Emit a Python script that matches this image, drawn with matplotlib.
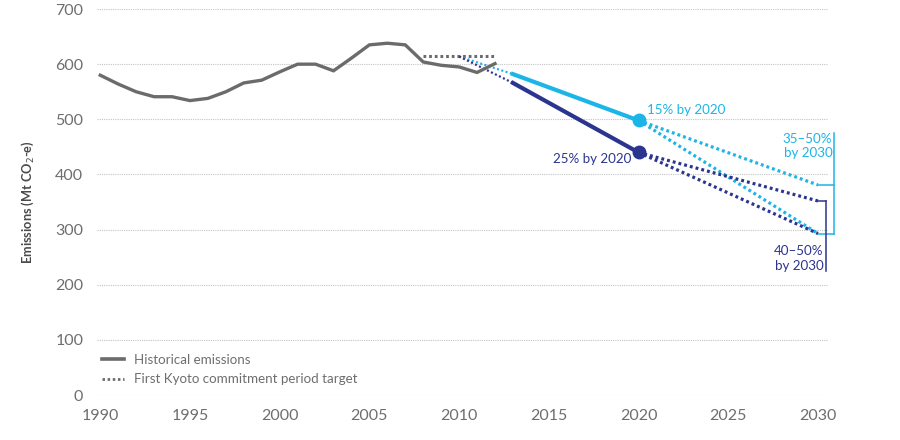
import matplotlib
matplotlib.use("Agg")
import matplotlib.pyplot as plt
from matplotlib.lines import Line2D

plt.rcParams['font.family'] = ['Lato', 'DejaVu Sans']

# ---- data ----
hist_years = list(range(1990, 2013))
hist_values = [580, 564, 550, 541, 541, 534, 538, 550, 566, 571, 586, 600,
               600, 588, 611, 635, 638, 635, 604, 598, 595, 585, 601]
kyoto_years = [2008, 2012]
kyoto_values = [615, 615]

proj_start_year = 2010
proj_start_value = 614
solid_years = [2013, 2020]
light_solid = [582, 498]      # 15% by 2020
dark_solid = [566, 440]       # 25% by 2020
target_year = 2030
light_2030 = [381, 293]       # 35-50% by 2030
dark_2030 = [352, 293]        # 40-50% by 2030

x_ticks = [1990, 1995, 2000, 2005, 2010, 2015, 2020, 2025, 2030]
y_ticks = [0, 100, 200, 300, 400, 500, 600, 700]

GRAY = '#6b6b6b'
LIGHT = '#1cb5e8'
DARK = '#2b3590'
TXT = '#6e6e6e'

fig = plt.figure(figsize=(9, 4.4), dpi=100)
ax = fig.add_axes([0.108, 0.102, 0.812, 0.8775])
ax.set_xlim(1989.83, 2030.56)
ax.set_ylim(0, 700)

for s in ax.spines.values():
    s.set_visible(False)
ax.set_yticks(y_ticks)
ax.set_xticks(x_ticks)
ax.tick_params(length=0, labelsize=11.5, labelcolor=TXT)
ax.tick_params(axis='y', pad=10)
ax.tick_params(axis='x', pad=10)
ax.yaxis.grid(True, color='#c4c4c4', linestyle=(0, (1, 1)), linewidth=0.8)
ax.set_axisbelow(True)
ax.set_ylabel('Emissions (Mt CO$_2$-e)', fontsize=9.2, fontweight='bold',
              color='#4a4a4a', labelpad=14)

dot_big = (0, (0.9, 0.95))
dot_small = (0, (0.9, 1.1))

# historical
ax.plot(hist_years, hist_values, color=GRAY, lw=2.4, solid_joinstyle='miter',
        zorder=4)
# kyoto target
ax.plot(kyoto_years, kyoto_values, color=GRAY, lw=2.2, linestyle=dot_big,
        zorder=3)

# projections: dotted lead-in
ax.plot([proj_start_year, solid_years[0]], [proj_start_value, light_solid[0]],
        color=LIGHT, lw=1.6, linestyle=dot_small, zorder=3)
ax.plot([proj_start_year, solid_years[0]], [proj_start_value, dark_solid[0]],
        color=DARK, lw=1.6, linestyle=dot_small, zorder=3)
# solid to 2020
ax.plot(solid_years, light_solid, color=LIGHT, lw=3.0, zorder=4)
ax.plot(solid_years, dark_solid, color=DARK, lw=3.0, zorder=4)
ax.plot([solid_years[1]], [light_solid[1]], 'o', color=LIGHT, ms=9, zorder=5)
ax.plot([solid_years[1]], [dark_solid[1]], 'o', color=DARK, ms=9, zorder=5)
# dotted to 2030
for v in light_2030:
    ax.plot([solid_years[1], target_year], [light_solid[1], v], color=LIGHT,
            lw=2.3, linestyle=dot_big, zorder=3)
for v in dark_2030:
    ax.plot([solid_years[1], target_year], [dark_solid[1], v], color=DARK,
            lw=2.3, linestyle=dot_big, zorder=3)

# annotations
fs_ann = 9.6
ax.text(2020.45, 517, '15% by 2020', color=LIGHT, fontsize=fs_ann,
        ha='left', va='center')
ax.text(2019.6, 428, '25% by 2020', color=DARK, fontsize=fs_ann,
        ha='right', va='center')
ax.text(2030.8, 452, '35–50%\nby 2030', color=LIGHT, fontsize=fs_ann,
        ha='right', va='center', linespacing=1.25)
ax.text(2030.3, 248, '40–50%\nby 2030', color=DARK, fontsize=fs_ann,
        ha='right', va='center', linespacing=1.25)

# brackets
bx_l = 2030.9
ax.plot([bx_l, bx_l], [light_2030[1], 475], color=LIGHT, lw=1.1,
        clip_on=False, zorder=2)
ax.plot([target_year, bx_l], [light_2030[0], light_2030[0]], color=LIGHT,
        lw=1.1, clip_on=False, zorder=2)
ax.plot([target_year, bx_l], [light_2030[1], light_2030[1]], color=LIGHT,
        lw=1.1, clip_on=False, zorder=2)
bx_d = 2030.45
ax.plot([bx_d, bx_d], [dark_2030[0], 225], color=DARK, lw=1.1,
        clip_on=False, zorder=2)
ax.plot([target_year, bx_d], [dark_2030[0], dark_2030[0]], color=DARK,
        lw=1.1, clip_on=False, zorder=2)

# legend
handles = [Line2D([], [], color=GRAY, lw=2.6),
           Line2D([], [], color=GRAY, lw=2.0, linestyle=dot_big)]
leg = ax.legend(handles, ['Historical emissions',
                          'First Kyoto commitment period target'],
                loc='lower left', bbox_to_anchor=(-0.004, 0.005), frameon=False,
                fontsize=9.6, handlelength=1.6, handletextpad=0.8,
                labelspacing=0.55, borderaxespad=0.2)
for t in leg.get_texts():
    t.set_color(TXT)

fig.savefig('out.png', dpi=100)
